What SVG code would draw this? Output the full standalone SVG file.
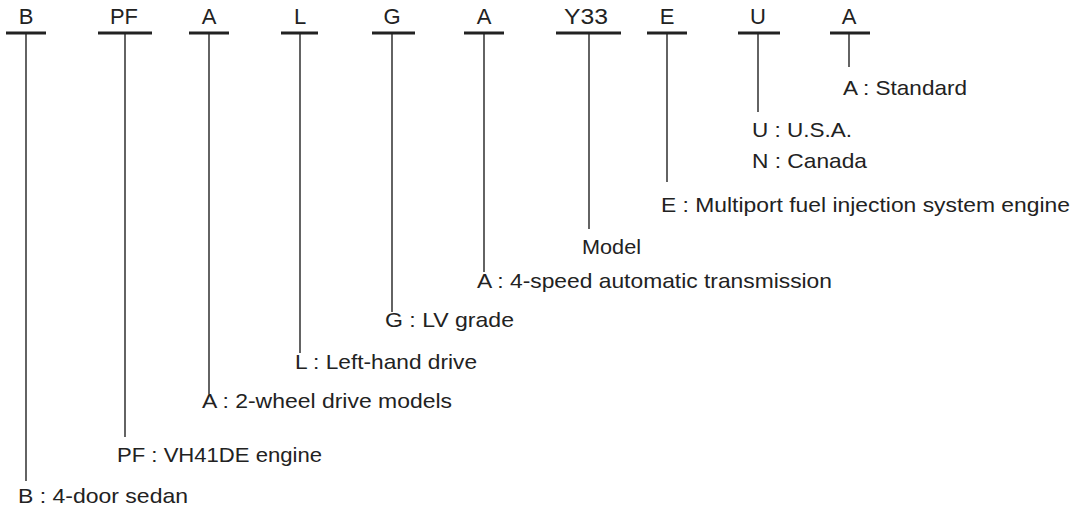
<svg xmlns="http://www.w3.org/2000/svg" width="1075" height="510" viewBox="0 0 1075 510">
<style>
.code{font-family:"Liberation Sans",Arial,sans-serif;font-size:22px;fill:#222;text-anchor:middle}
.lbl{font-family:"Liberation Sans",Arial,sans-serif;font-size:21px;fill:#222}
.bar{stroke:#222;stroke-width:3;fill:none}
.stem{stroke:#222;stroke-width:1.4;fill:none}
</style>
<rect width="1075" height="510" fill="#fff"/>
<g id="node-B"><text class="code" x="26" y="24">B</text><line class="bar" x1="6" y1="33" x2="46" y2="33"/></g>
<g id="node-PF"><text class="code" x="124" y="24" textLength="28" lengthAdjust="spacingAndGlyphs">PF</text><line class="bar" x1="98" y1="33" x2="152" y2="33"/></g>
<g id="node-A1"><text class="code" x="209" y="24">A</text><line class="bar" x1="189" y1="33" x2="229" y2="33"/></g>
<g id="node-L"><text class="code" x="300" y="24">L</text><line class="bar" x1="281" y1="33" x2="318" y2="33"/></g>
<g id="node-G"><text class="code" x="392" y="24">G</text><line class="bar" x1="372" y1="33" x2="415" y2="33"/></g>
<g id="node-A2"><text class="code" x="484" y="24">A</text><line class="bar" x1="464" y1="33" x2="504" y2="33"/></g>
<g id="node-Y33"><text class="code" x="586" y="24" textLength="44" lengthAdjust="spacingAndGlyphs">Y33</text><line class="bar" x1="556" y1="33" x2="621" y2="33"/></g>
<g id="node-E"><text class="code" x="667" y="24">E</text><line class="bar" x1="647" y1="33" x2="687" y2="33"/></g>
<g id="node-U"><text class="code" x="758" y="24">U</text><line class="bar" x1="738" y1="33" x2="780" y2="33"/></g>
<g id="node-A3"><text class="code" x="849" y="24">A</text><line class="bar" x1="830" y1="33" x2="870" y2="33"/></g>
<g id="connectors">
<line class="stem" x1="26" y1="33" x2="26" y2="481"/>
<line class="stem" x1="125" y1="33" x2="125" y2="437"/>
<line class="stem" x1="209" y1="33" x2="209" y2="394"/>
<line class="stem" x1="300" y1="33" x2="300" y2="353"/>
<line class="stem" x1="392" y1="33" x2="392" y2="312"/>
<line class="stem" x1="484" y1="33" x2="484" y2="272"/>
<line class="stem" x1="589" y1="33" x2="589" y2="229"/>
<line class="stem" x1="667" y1="33" x2="667" y2="182"/>
<line class="stem" x1="758" y1="33" x2="758" y2="112"/>
<line class="stem" x1="849" y1="33" x2="849" y2="67"/>
</g>
<g id="labels">
<text class="lbl" x="843" y="95" textLength="124" lengthAdjust="spacingAndGlyphs">A : Standard</text>
<text class="lbl" x="752" y="137" textLength="100" lengthAdjust="spacingAndGlyphs">U : U.S.A.</text>
<text class="lbl" x="752" y="168" textLength="115" lengthAdjust="spacingAndGlyphs">N : Canada</text>
<text class="lbl" x="661" y="212" textLength="409" lengthAdjust="spacingAndGlyphs">E : Multiport fuel injection system engine</text>
<text class="lbl" x="582" y="254" textLength="59" lengthAdjust="spacingAndGlyphs">Model</text>
<text class="lbl" x="477" y="288" textLength="355" lengthAdjust="spacingAndGlyphs">A : 4-speed automatic transmission</text>
<text class="lbl" x="385" y="327" textLength="129" lengthAdjust="spacingAndGlyphs">G : LV grade</text>
<text class="lbl" x="295" y="369" textLength="182" lengthAdjust="spacingAndGlyphs">L : Left-hand drive</text>
<text class="lbl" x="202" y="408" textLength="250" lengthAdjust="spacingAndGlyphs">A : 2-wheel drive models</text>
<text class="lbl" x="117" y="462" textLength="205" lengthAdjust="spacingAndGlyphs">PF : VH41DE engine</text>
<text class="lbl" x="18" y="503" textLength="170" lengthAdjust="spacingAndGlyphs">B : 4-door sedan</text>
</g>
</svg>
